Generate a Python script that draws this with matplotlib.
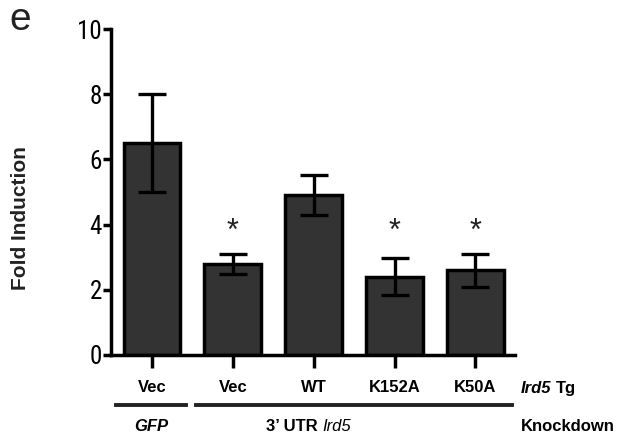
import matplotlib
matplotlib.use("Agg")
import matplotlib.pyplot as plt
from matplotlib import font_manager
from matplotlib.font_manager import FontProperties

plt.rcParams['font.family'] = ['Liberation Sans', 'DejaVu Sans']

# pick a condensed sans font for the y tick numbers if one is installed
narrow_file = None
for f in font_manager.fontManager.ttflist:
    if f.weight in (400, 'normal', 'regular') and f.style == 'normal' and (
            'Narrow' in f.name or 'Condensed' in f.name or
            str(f.stretch) in ('condensed', 'semi-condensed', '75', '87')):
        if 'Mono' in f.name or 'Serif' in f.name:
            continue
        narrow_file = f.fname
        if 'Liberation' in f.name:
            break
if narrow_file:
    tick_font = FontProperties(fname=narrow_file, size=18)
else:
    tick_font = FontProperties(family='Liberation Sans', size=14.5)

categories = ['Vec', 'Vec', 'WT', 'K152A', 'K50A']
values = [6.5, 2.8, 4.9, 2.4, 2.6]
errors = [1.5, 0.3, 0.62, 0.57, 0.5]
significant = [False, True, False, True, True]
yticks = [0, 2, 4, 6, 8, 10]

W, H = 618, 436
fig = plt.figure(figsize=(W/100, H/100), dpi=100)
ax = fig.add_axes([111/W, 1-355/H, (515-111)/W, (355-29)/H])

x = list(range(len(categories)))
ax.bar(x, values, width=0.70, color='#333333', edgecolor='black', linewidth=2.5, zorder=2)
ax.errorbar(x, values, yerr=errors, fmt='none', ecolor='black', elinewidth=2.4,
            capsize=10, capthick=2.4, zorder=3)
for xi, s in zip(x, significant):
    if s:
        ax.text(xi, 3.78, '*', ha='center', va='center', fontsize=22, color='#222222')

ax.set_xlim(-0.506, 4.49)
ax.set_ylim(0, 10)
ax.set_yticks(yticks)
ax.set_yticklabels([str(t) for t in yticks])
for lab in ax.get_yticklabels():
    lab.set_fontproperties(tick_font)
ax.set_xticks(x)
ax.set_xticklabels([])
for sp in ['top', 'right']:
    ax.spines[sp].set_visible(False)
for sp in ['left', 'bottom']:
    ax.spines[sp].set_linewidth(2.5)
ax.tick_params(axis='y', length=6, width=2.5, pad=0.5)
ax.tick_params(axis='x', length=9, width=2.5)

# category labels (first row)
for xi, c in zip(x, categories):
    ax.text(xi, -(388-355)/326, c, transform=ax.get_xaxis_transform(), ha='center',
            va='center', fontsize=12, fontweight='bold')

row1 = 1 - 388/H
row2 = 1 - 426/H
t_ird = fig.text(521/W, row1, 'Ird5', ha='left', va='center', fontsize=12,
                 fontweight='bold', fontstyle='italic')
ax.annotate('Tg', xy=(1, 0.5), xycoords=t_ird, xytext=(3, 0), textcoords='offset points',
            ha='left', va='center', fontsize=12, fontweight='bold', annotation_clip=False)

fig.add_artist(plt.Line2D([116/W, 186/W], [1-405/H]*2, color='#222222', lw=2.8))
fig.add_artist(plt.Line2D([196/W, 512/W], [1-405/H]*2, color='#222222', lw=2.8))

fig.text(151/W, row2, 'GFP', ha='center', va='center', fontsize=12,
         fontweight='bold', fontstyle='italic')
fig.text(322/W, row2, "3’ UTR ", ha='right', va='center', fontsize=12, fontweight='bold')
fig.text(322/W, row2, 'Ird5', ha='left', va='center', fontsize=12, fontstyle='italic')
fig.text(521/W, row2, 'Knockdown', ha='left', va='center', fontsize=12, fontweight='bold')

fig.text(21/W, 1-218/H, 'Fold Induction', rotation=90, ha='center', va='center',
         fontsize=15, fontweight='bold', color='#222222')
fig.text(20/W, 1-20/H, 'e', ha='center', va='center', fontsize=28, color='#222222')

fig.savefig('out.png', dpi=100)
